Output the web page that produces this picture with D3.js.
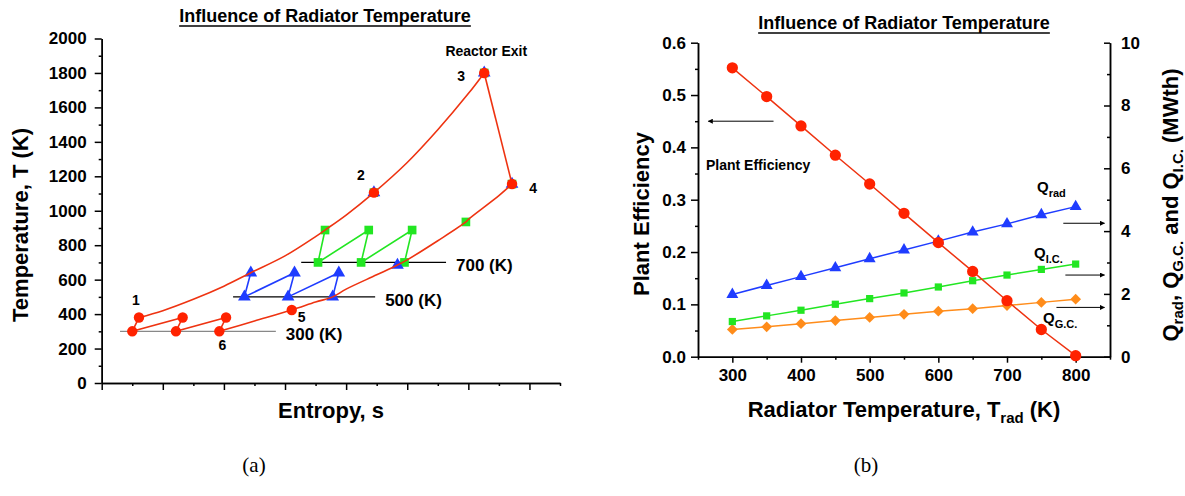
<!DOCTYPE html>
<html>
<head>
<meta charset="utf-8">
<script src="https://cdn.jsdelivr.net/npm/d3@7"></script>
<style>
  body { margin: 0; background: #fff; }
  svg text { font-family: "Liberation Sans", Arial, sans-serif; font-weight: bold; fill: #000; }
  .caption { font-family: "Liberation Serif", "Times New Roman", serif !important; font-weight: normal !important; }
</style>
</head>
<body>
<div id="chart"></div>
<script>
// ---------- (a) T-s diagram: entropy (arbitrary units 0..15), temperature (K) ----------
var upperIsobarS = [1.22, 2, 3, 4, 4.88, 6, 7, 7.31, 8, 8.91, 10, 11, 12, 12.52];
var upperIsobarT = [380, 420, 486, 562, 640, 738, 850, 888, 975, 1105, 1280, 1470, 1680, 1800];
var lowerIsobarS = [13.43, 13, 12, 11.92, 11, 10, 9.68, 9, 8, 7.56, 7, 6.22, 5, 3.85];
var lowerIsobarT = [1155, 1088, 950, 935, 826, 715, 685, 628, 545, 500, 470, 424, 360, 300];
var turbineS = [12.52, 13.43];
var turbineT = [1800, 1155];

// compressor stages + intercoolers for each radiator temperature
var zig300S = [3.85, 4.07, 2.43, 2.65, 1.00, 1.22];
var zig300T = [300, 380, 300, 380, 300, 380];
var zig500S = [7.56, 7.76, 6.10, 6.31, 4.67, 4.88];
var zig500T = [500, 640, 500, 640, 500, 640];
var zig700S = [9.91, 10.16, 8.49, 8.74, 7.08, 7.31];
var zig700T = [700, 888, 700, 888, 700, 888];

// shared state points 2, 3, 4 and the recuperator exit (5) of each case
var commonS = [8.91, 12.52, 13.43];
var commonT = [1105, 1800, 1155];
var exit300 = [6.22, 424];
var exit500 = [9.68, 685];
var exit700 = [11.92, 935];

// radiator temperature lines
var radT = [300, 500, 700];
var radS0 = [0.6, 4.3, 6.53];
var radS1 = [5.7, 8.95, 11.27];

// ---------- (b) influence of radiator temperature ----------
var tRad = [300, 350, 400, 450, 500, 550, 600, 650, 700, 750, 800];
var efficiency = [0.552, 0.497, 0.441, 0.385, 0.330, 0.274, 0.218, 0.163, 0.107, 0.052, 0.002];
var qRad = [1.98, 2.27, 2.55, 2.83, 3.12, 3.40, 3.68, 3.97, 4.23, 4.52, 4.78];
var qIC = [1.12, 1.30, 1.48, 1.67, 1.85, 2.03, 2.22, 2.42, 2.60, 2.78, 2.95];
var qGC = [0.87, 0.95, 1.05, 1.15, 1.25, 1.35, 1.45, 1.53, 1.63, 1.73, 1.83];

var red = "#ff2200", redLine = "#ee3311", blue = "#1f3cff", green = "#22e622", orange = "#ff8c1a";

var svg = d3.select("#chart").append("svg")
  .attr("width", 1185)
  .attr("height", 496);

var defs = svg.append("defs");
defs.append("marker")
  .attr("id", "arrow")
  .attr("viewBox", "0 0 10 10")
  .attr("refX", 9).attr("refY", 5)
  .attr("markerWidth", 7).attr("markerHeight", 5)
  .attr("markerUnits", "userSpaceOnUse")
  .attr("orient", "auto")
  .append("path").attr("d", "M0,0L10,5L0,10Z").attr("fill", "#000");

function zip(a, b) { return a.map(function(v, i) { return [v, b[i]]; }); }

function title(x, y, txt) {
  var t = svg.append("text")
    .attr("x", x).attr("y", y)
    .attr("text-anchor", "middle")
    .style("font-size", "18px")
    .text(txt);
  var bb = t.node().getBBox();
  svg.append("line")
    .attr("x1", bb.x).attr("x2", bb.x + bb.width)
    .attr("y1", y + 4).attr("y2", y + 4)
    .attr("stroke", "#000").attr("stroke-width", 1.5);
}

function styleAxis(g) {
  g.selectAll("path, line").attr("stroke", "#000").attr("stroke-width", 1.5);
  g.selectAll("text").style("font-size", "17px");
}

// ====================== (a) ======================
var xS = d3.scaleLinear().domain([0, 15]).range([101.7, 560]);
var yT = d3.scaleLinear().domain([0, 2000]).range([383, 38.5]);

var a = svg.append("g");

a.append("g")
  .attr("transform", "translate(0,383)")
  .call(d3.axisBottom(xS).tickValues(d3.range(1, 16, 2)).tickSize(3).tickFormat("").tickSizeOuter(0))
  .call(styleAxis);
a.append("g")
  .attr("transform", "translate(0,383)")
  .call(d3.axisBottom(xS).tickValues(d3.range(0, 15, 2)).tickSize(7).tickFormat("").tickSizeOuter(0))
  .call(styleAxis);
a.append("g")
  .attr("transform", "translate(101.7,0)")
  .call(d3.axisLeft(yT).tickValues(d3.range(100, 2000, 200)).tickSize(3).tickFormat("").tickSizeOuter(0))
  .call(styleAxis);
a.append("g")
  .attr("transform", "translate(101.7,0)")
  .call(d3.axisLeft(yT).tickValues(d3.range(0, 2001, 200)).tickSize(7).tickPadding(8).tickFormat(d3.format("d")).tickSizeOuter(0))
  .call(styleAxis);

// radiator temperature lines
radT.forEach(function(t, i) {
  a.append("line")
    .attr("x1", xS(radS0[i])).attr("x2", xS(radS1[i]))
    .attr("y1", yT(t)).attr("y2", yT(t))
    .attr("stroke", i == 0 ? "#888" : "#000").attr("stroke-width", 1.3);
  a.append("text")
    .attr("x", xS(radS1[i]) + 10).attr("y", yT(t) + 9)
    .style("font-size", "17px")
    .text(t + " (K)");
});

var lineS = d3.line().x(function(d) { return xS(d[0]); }).y(function(d) { return yT(d[1]); });
var curveS = d3.line().x(function(d) { return xS(d[0]); }).y(function(d) { return yT(d[1]); }).curve(d3.curveCatmullRom);

var sym = {
  circle: d3.symbol().type(d3.symbolCircle).size(85),
  triangle: d3.symbol().type(d3.symbolTriangle).size(70),
  square: d3.symbol().type(d3.symbolSquare).size(75)
};

function markers(g, pts, shape, color) {
  g.selectAll(null).data(pts).enter().append("path")
    .attr("d", sym[shape])
    .attr("transform", function(d) { return "translate(" + xS(d[0]) + "," + yT(d[1]) + ")"; })
    .attr("fill", color);
}

// 700 K case (green)
a.append("path").attr("d", lineS(zip(zig700S, zig700T))).attr("fill", "none").attr("stroke", green).attr("stroke-width", 1.6);
markers(a, zip(zig700S, zig700T).concat(zip(commonS, commonT), [exit700]), "square", green);
// 500 K case (blue)
a.append("path").attr("d", lineS(zip(zig500S, zig500T))).attr("fill", "none").attr("stroke", blue).attr("stroke-width", 1.6);
markers(a, zip(zig500S, zig500T).concat(zip(commonS, commonT), [exit500]), "triangle", blue);
// 300 K case (red)
a.append("path").attr("d", curveS(zip(upperIsobarS, upperIsobarT))).attr("fill", "none").attr("stroke", redLine).attr("stroke-width", 1.6);
a.append("path").attr("d", curveS(zip(lowerIsobarS, lowerIsobarT))).attr("fill", "none").attr("stroke", redLine).attr("stroke-width", 1.6);
a.append("path").attr("d", lineS(zip(turbineS, turbineT))).attr("fill", "none").attr("stroke", redLine).attr("stroke-width", 1.6);
a.append("path").attr("d", lineS(zip(zig300S, zig300T))).attr("fill", "none").attr("stroke", redLine).attr("stroke-width", 1.6);
markers(a, zip(zig300S, zig300T).concat(zip(commonS, commonT), [exit300]), "circle", red);

// state point labels
var stateLabels = [
  { txt: "1", s: zig300S[5], t: zig300T[5], dx: -3, dy: -13 },
  { txt: "2", s: commonS[0], t: commonT[0], dx: -13, dy: -13 },
  { txt: "3", s: commonS[1], t: commonT[1], dx: -23, dy: 8 },
  { txt: "4", s: commonS[2], t: commonT[2], dx: 21, dy: 9 },
  { txt: "5", s: exit300[0], t: exit300[1], dx: 10, dy: 12 },
  { txt: "6", s: zig300S[0], t: zig300T[0], dx: 3, dy: 19 },
  { txt: "Reactor Exit", s: commonS[1], t: commonT[1], dx: 2, dy: -17 }
];
a.selectAll(null).data(stateLabels).enter().append("text")
  .attr("x", function(d) { return xS(d.s) + d.dx; })
  .attr("y", function(d) { return yT(d.t) + d.dy; })
  .attr("text-anchor", "middle")
  .style("font-size", "14px")
  .text(function(d) { return d.txt; });

a.append("text")
  .attr("transform", "translate(28,225) rotate(-90)")
  .attr("text-anchor", "middle")
  .style("font-size", "22px")
  .text("Temperature, T (K)");
a.append("text")
  .attr("x", 331).attr("y", 418)
  .attr("text-anchor", "middle")
  .style("font-size", "22px")
  .text("Entropy, s");

title(325, 22, "Influence of Radiator Temperature");

// ====================== (b) ======================
var xR = d3.scaleLinear().domain([250, 850]).range([698, 1110]);
var yE = d3.scaleLinear().domain([0, 0.6]).range([356.7, 42.7]);
var yQ = d3.scaleLinear().domain([0, 10]).range([356.7, 42.7]);

var b = svg.append("g");

b.append("g")
  .attr("transform", "translate(0,356.7)")
  .call(d3.axisBottom(xR).tickValues(d3.range(250, 851, 100)).tickSize(3).tickFormat("").tickSizeOuter(0))
  .call(styleAxis);
b.append("g")
  .attr("transform", "translate(0,356.7)")
  .call(d3.axisBottom(xR).tickValues(d3.range(300, 801, 100)).tickSize(6).tickPadding(6).tickSizeOuter(0))
  .call(styleAxis);
b.append("g")
  .attr("transform", "translate(698,0)")
  .call(d3.axisLeft(yE).tickValues(d3.range(0.05, 0.6, 0.1)).tickSize(3).tickFormat("").tickSizeOuter(0))
  .call(styleAxis);
b.append("g")
  .attr("transform", "translate(698,0)")
  .call(d3.axisLeft(yE).tickValues(d3.range(0, 0.61, 0.1)).tickSize(7).tickPadding(5).tickFormat(d3.format(".1f")).tickSizeOuter(0))
  .call(styleAxis);
b.append("g")
  .attr("transform", "translate(1110,0)")
  .call(d3.axisRight(yQ).tickValues(d3.range(1, 10, 2)).tickSize(-3).tickFormat("").tickSizeOuter(0))
  .call(styleAxis);
b.append("g")
  .attr("transform", "translate(1110,0)")
  .call(d3.axisRight(yQ).tickValues(d3.range(0, 11, 2)).tickSize(-6).tickPadding(11).tickSizeOuter(0))
  .call(styleAxis);

function series(vals, yScale, color, shape, size) {
  var pts = zip(tRad, vals);
  b.append("path")
    .attr("d", d3.line().x(function(d) { return xR(d[0]); }).y(function(d) { return yScale(d[1]); })(pts))
    .attr("fill", "none").attr("stroke", color == red ? redLine : color).attr("stroke-width", 1.5);
  var shp = shape == "triangle" ? d3.symbolTriangle : (shape == "circle" ? d3.symbolCircle : d3.symbolSquare);
  b.selectAll(null).data(pts).enter().append("path")
    .attr("d", d3.symbol().type(shp).size(size))
    .attr("transform", function(d) {
      return "translate(" + xR(d[0]) + "," + yScale(d[1]) + ")" + (shape == "diamond" ? " rotate(45)" : "");
    })
    .attr("fill", color);
}

series(qGC, yQ, orange, "diamond", 58);
series(qIC, yQ, green, "square", 52);
series(qRad, yQ, blue, "triangle", 62);
series(efficiency, yE, red, "circle", 100);

// annotations
function arrow(x1, x2, y) {
  b.append("line")
    .attr("x1", x1).attr("x2", x2).attr("y1", y).attr("y2", y)
    .attr("stroke", "#000").attr("stroke-width", 1)
    .attr("marker-end", "url(#arrow)");
}
arrow(xR(360), xR(265), yE(0.45));
arrow(xR(782), xR(842), yQ(4.25));
arrow(xR(785), xR(842), yQ(2.6));
arrow(xR(772), xR(842), yQ(1.57));

b.append("text").attr("x", 706).attr("y", 170).style("font-size", "14px").text("Plant Efficiency");

function qLabel(x, y, sub) {
  var t = b.append("text").attr("x", x).attr("y", y).style("font-size", "15px");
  t.append("tspan").text("Q");
  t.append("tspan").attr("dy", 5).style("font-size", "11px").text(sub);
}
qLabel(1037, 192, "rad");
qLabel(1034, 258, "I.C.");
qLabel(1043, 323, "G.C.");

var yl = b.append("text")
  .attr("transform", "translate(1178,205) rotate(-90)")
  .attr("text-anchor", "middle")
  .style("font-size", "22px");
yl.append("tspan").text("Q");
yl.append("tspan").attr("dy", 5).style("font-size", "15px").text("rad");
yl.append("tspan").attr("dy", -5).text(", Q");
yl.append("tspan").attr("dy", 5).style("font-size", "15px").text("G.C.");
yl.append("tspan").attr("dy", -5).text(" and Q");
yl.append("tspan").attr("dy", 5).style("font-size", "15px").text("I.C.");
yl.append("tspan").attr("dy", -5).text(" (MWth)");

b.append("text")
  .attr("transform", "translate(649,214) rotate(-90)")
  .attr("text-anchor", "middle")
  .style("font-size", "22px")
  .text("Plant Efficiency");

var xl = b.append("text")
  .attr("x", 904).attr("y", 417)
  .attr("text-anchor", "middle")
  .style("font-size", "22px");
xl.append("tspan").text("Radiator Temperature, T");
xl.append("tspan").attr("dy", 6).style("font-size", "15px").text("rad");
xl.append("tspan").attr("dy", -6).text(" (K)");

title(904, 29, "Influence of Radiator Temperature");

// captions
svg.append("text").attr("class", "caption").attr("x", 254).attr("y", 472).attr("text-anchor", "middle").style("font-size", "21px").text("(a)");
svg.append("text").attr("class", "caption").attr("x", 866).attr("y", 472).attr("text-anchor", "middle").style("font-size", "21px").text("(b)");
</script>
</body>
</html>
